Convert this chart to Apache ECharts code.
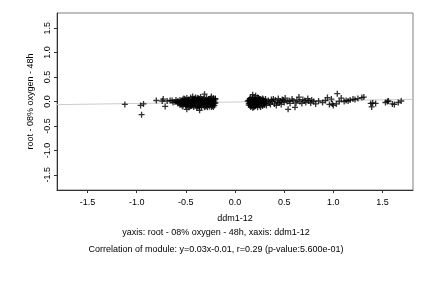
<!DOCTYPE html>
<html><head><meta charset="utf-8">
<script src="https://cdn.jsdelivr.net/npm/echarts@6/dist/echarts.min.js"></script>
<style>html,body{margin:0;padding:0;background:#fff}#c{width:432px;height:288px}</style>
</head><body><div id="c"></div>
<script>
// ---- data ----
var tickValues = [-1.5, -1.0, -0.5, 0.0, 0.5, 1.0, 1.5];
var fitSlope = 0.03;
var fitIntercept = -0.01;
var leftSparse = [[-1.12,-0.06],[-0.96,-0.08],[-0.93,-0.05],[-0.95,-0.27],[-0.80,0.02],[-0.74,0.01],[-0.73,0.05],[-0.71,-0.10],[-0.69,0.01],[-0.66,0.02],[-0.64,0.02],[-0.63,-0.02],[-0.61,-0.01],[-0.60,0.03],[-0.59,-0.01]];
var leftOutliers = [[-0.49,-0.16],[-0.43,0.10],[-0.36,-0.18],[-0.31,0.15],[-0.24,0.10],[-0.20,0.06]];
var leftCluster = [[-0.58,0.01],[-0.57,-0.03],[-0.56,0.03],[-0.55,-0.05],[-0.55,0.00],[-0.54,-0.08],[-0.53,0.04],[-0.53,-0.02],[-0.52,0.06],[-0.52,-0.06],[-0.51,0.01],[-0.50,-0.10],[-0.50,0.03],[-0.49,-0.04],[-0.49,0.07],[-0.48,-0.01],[-0.48,-0.08],[-0.47,0.04],[-0.47,-0.12],[-0.46,0.00],[-0.46,-0.05],[-0.45,0.08],[-0.45,-0.09],[-0.44,0.02],[-0.44,-0.03],[-0.43,0.05],[-0.43,-0.07],[-0.42,-0.11],[-0.42,0.01],[-0.41,0.06],[-0.41,-0.04],[-0.40,-0.08],[-0.40,0.03],[-0.39,0.00],[-0.39,-0.13],[-0.38,0.07],[-0.38,-0.05],[-0.37,0.02],[-0.37,-0.09],[-0.36,0.05],[-0.36,-0.02],[-0.35,-0.07],[-0.35,0.09],[-0.34,0.01],[-0.34,-0.11],[-0.33,0.04],[-0.33,-0.04],[-0.32,0.06],[-0.32,-0.08],[-0.31,0.00],[-0.31,-0.12],[-0.30,0.03],[-0.30,-0.05],[-0.29,0.08],[-0.29,-0.09],[-0.28,0.02],[-0.28,-0.03],[-0.27,0.05],[-0.27,-0.07],[-0.26,-0.01],[-0.26,-0.10],[-0.25,0.06],[-0.25,0.00],[-0.24,-0.06],[-0.24,0.03],[-0.23,-0.02],[-0.23,-0.09],[-0.22,0.04],[-0.22,-0.05],[-0.21,0.01],[-0.21,-0.08],[-0.20,0.05],[-0.20,-0.03],[-0.53,-0.10],[-0.51,-0.02],[-0.47,0.01],[-0.44,-0.09],[-0.40,0.08],[-0.36,-0.12],[-0.33,0.00],[-0.30,-0.10],[-0.27,0.01],[-0.24,-0.11],[-0.22,0.07],[-0.39,0.04],[-0.45,-0.01],[-0.49,-0.07],[-0.56,-0.07],[-0.58,-0.04],[-0.51,0.05],[-0.48,0.03],[-0.46,-0.10],[-0.43,-0.01],[-0.41,0.02],[-0.38,-0.10],[-0.37,0.06],[-0.35,-0.03],[-0.34,0.05],[-0.32,-0.01],[-0.31,-0.06],[-0.29,0.01],[-0.28,-0.12],[-0.26,0.04],[-0.25,-0.05],[-0.23,0.02],[-0.22,-0.11],[-0.21,-0.03],[-0.42,-0.06],[-0.50,-0.06],[-0.54,0.02]];
var rightCluster = [[0.14,0.02],[0.14,-0.04],[0.15,0.06],[0.15,-0.08],[0.16,0.00],[0.16,-0.11],[0.17,0.04],[0.17,-0.05],[0.18,0.08],[0.18,-0.02],[0.18,-0.13],[0.19,0.03],[0.19,-0.07],[0.20,0.06],[0.20,-0.10],[0.21,0.12],[0.21,-0.01],[0.22,0.04],[0.22,-0.06],[0.23,0.00],[0.23,-0.12],[0.24,0.07],[0.24,-0.04],[0.25,0.02],[0.25,-0.08],[0.26,0.05],[0.26,-0.02],[0.27,-0.06],[0.27,0.03],[0.28,0.00],[0.28,-0.09],[0.29,0.04],[0.29,-0.03],[0.30,0.01],[0.30,-0.07],[0.31,0.05],[0.31,-0.04],[0.32,0.00],[0.32,-0.08],[0.16,0.08],[0.19,-0.12],[0.23,0.08],[0.21,-0.09],[0.26,-0.11],[0.15,-0.01],[0.17,-0.09],[0.20,0.01],[0.24,-0.01],[0.28,0.06],[0.13,0.01],[0.14,-0.07],[0.15,0.03],[0.16,-0.06],[0.17,0.01],[0.18,0.05],[0.19,-0.03],[0.20,-0.06],[0.21,0.04],[0.22,-0.02],[0.23,-0.07],[0.25,0.05],[0.27,-0.01],[0.29,-0.06],[0.18,0.14]];
var rightMid = [[0.34,0.02],[0.35,-0.03],[0.37,0.04],[0.38,0.00],[0.40,-0.05],[0.41,0.03],[0.43,-0.02],[0.44,0.06],[0.46,0.01],[0.47,-0.06],[0.49,0.03],[0.50,-0.02],[0.51,0.07],[0.53,0.00],[0.54,-0.16],[0.55,0.02],[0.56,-0.04],[0.58,0.05],[0.59,0.01],[0.61,-0.12],[0.62,-0.03],[0.63,0.03],[0.65,0.09],[0.66,0.00],[0.68,-0.04],[0.69,0.04],[0.71,0.02],[0.72,-0.02],[0.74,0.06],[0.75,0.01],[0.77,-0.03],[0.78,0.03],[0.80,0.00],[0.36,-0.06],[0.39,0.05],[0.42,-0.08],[0.45,-0.03],[0.48,0.04]];
var rightSparse = [[0.82,-0.05],[0.85,0.01],[0.89,-0.02],[0.92,0.02],[0.94,0.08],[0.96,-0.06],[0.98,0.05],[0.99,-0.05],[1.00,-0.08],[1.03,-0.05],[1.04,0.16],[1.06,0.00],[1.08,0.07],[1.11,0.00],[1.13,0.02],[1.15,0.01],[1.17,0.03],[1.20,0.05],[1.22,0.04],[1.25,0.06],[1.29,0.08],[1.31,0.09],[1.38,-0.04],[1.39,-0.11],[1.40,-0.03],[1.43,-0.04],[1.53,-0.02],[1.55,0.00],[1.56,0.01],[1.60,-0.05],[1.62,-0.06],[1.66,-0.02],[1.69,0.01]];
var xName = 'ddm1-12';
var yName = 'root - 08% oxygen - 48h';
var caption1 = 'yaxis: root - 08% oxygen - 48h, xaxis: ddm1-12';
var caption2 = 'Correlation of module: y=0.03x-0.01, r=0.29 (p-value:5.600e-01)';
var axisMin = -1.81, axisMax = 1.81;

// ---- chart ----
var allPoints = [].concat(leftSparse, leftOutliers, leftCluster, rightCluster, rightMid, rightSparse);
var fitLine = [[axisMin, fitSlope*axisMin+fitIntercept],[axisMax, fitSlope*axisMax+fitIntercept]];
var font = 'Liberation Sans, Arial, Helvetica, sans-serif';
var plus = 'path://M3.9,0H6.1V3.9H10V6.1H6.1V10H3.9V6.1H0V3.9H3.9Z';
var chart = echarts.init(document.getElementById('c'), null, {renderer:'canvas'});
chart.setOption({
  animation: false,
  backgroundColor: '#fff',
  grid: {left:57, right:19, top:13, bottom:98, show:true, borderColor:'#808080', borderWidth:1},
  title: [
    {text: caption1, left:'center', top:228, textStyle:{fontFamily:font, fontSize:9, fontWeight:'normal', color:'#000'}, padding:0},
    {text: caption2, left:'center', top:245, textStyle:{fontFamily:font, fontSize:9, fontWeight:'normal', color:'#000'}, padding:0}
  ],
  xAxis: {
    type:'value', min:axisMin, max:axisMax,
    name: xName, nameLocation:'middle', nameGap:24,
    nameTextStyle:{fontFamily:font, fontSize:9, color:'#000'},
    axisLine:{show:true, onZero:false, lineStyle:{color:'#333', width:1}},
    axisTick:{show:true, length:3, customValues:tickValues, lineStyle:{color:'#333'}},
    axisLabel:{customValues:tickValues, margin:8, fontFamily:font, fontSize:9, color:'#000', formatter:function(v){return v.toFixed(1);}},
    splitLine:{show:false}
  },
  yAxis: {
    type:'value', min:axisMin, max:axisMax,
    name: yName, nameLocation:'middle', nameGap:13,
    nameTextStyle:{fontFamily:font, fontSize:9, color:'#000'},
    axisLine:{show:true, onZero:false, lineStyle:{color:'#333', width:1}},
    axisTick:{show:true, length:3, customValues:tickValues, lineStyle:{color:'#333'}},
    axisLabel:{customValues:tickValues, rotate:90, margin:5, fontFamily:font, fontSize:9, color:'#000', formatter:function(v){return v.toFixed(1);}},
    splitLine:{show:false}
  },
  series: [
    {type:'line', data:fitLine, symbol:'none', lineStyle:{color:'#cccccc', width:1}, silent:true, z:1},
    {type:'scatter', data:allPoints, symbol:plus, symbolSize:6, itemStyle:{color:'#000'}, z:2}
  ]
});
</script>
</body></html>
